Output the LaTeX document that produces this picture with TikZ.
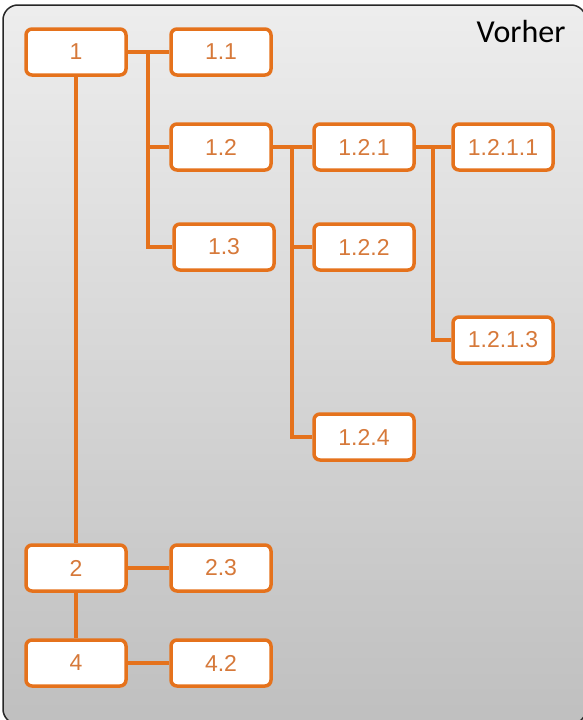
\documentclass[tikz,border=0pt]{standalone}
\usepackage{fontspec}
\setmainfont{Liberation Sans}
\newfontfamily\titlefont{Carlito}
\definecolor{boxorange}{RGB}{229,114,28}
\definecolor{textorange}{RGB}{214,121,58}
\newcommand{\boxfont}{\fontsize{23}{27}\selectfont}
\tikzset{
  itembox/.style={draw=boxorange, line width=3.5pt, fill=white, rounded corners=6pt,
    minimum width=100pt, minimum height=46pt, inner sep=0pt,
    text=textorange, font=\boxfont},
  link/.style={draw=boxorange, line width=3.5pt}
}

\begin{document}
\begin{tikzpicture}[x=1pt,y=-1pt]
  \useasboundingbox (0,0) rectangle (583,720);
  \shade[top color=black!7, bottom color=black!25, draw=black!85, line width=1.5pt, rounded corners=15pt]
    (3,5) rectangle (586,724);
  \node[anchor=north east, font=\titlefont\fontsize{32}{36}\selectfont] (title) at (569,17) {Vorher};

  % first level
  \node[itembox] (n1) at (76,52) {1};
  \node[itembox] (n2) at (76,568) {2};
  \node[itembox] (n4) at (76,663) {4};
  % second level
  \node[itembox] (n11) at (221,52) {1.1};
  \node[itembox] (n12) at (221,147) {1.2};
  \node[itembox] (n13) at (224,247) {1.3};
  \node[itembox] (n23) at (221,568) {2.3};
  \node[itembox] (n42) at (221,663) {4.2};
  % third level
  \node[itembox] (n121) at (364,147) {1.2.1};
  \node[itembox] (n122) at (364,247) {1.2.2};
  \node[itembox] (n124) at (364,437) {1.2.4};
  % fourth level
  \node[itembox] (n1211) at (503,147) {1.2.1.1};
  \node[itembox] (n1213) at (503,340) {1.2.1.3};

  \coordinate (b1) at (148,52);
  \coordinate (b12) at (292,147);
  \coordinate (b121) at (433,147);

  \draw[link] (n1.south) -- (n2.north);
  \draw[link] (n2.south) -- (n4.north);
  \draw[link] (n2.east) -- (n23.west);
  \draw[link] (n4.east) -- (n42.west);
  \draw[link] (n1.east) -- (n11.west);
  \draw[link] (b1) |- (n12.west);
  \draw[link] (b1) |- (n13.west);
  \draw[link] (n12.east) -- (n121.west);
  \draw[link] (b12) |- (n122.west);
  \draw[link] (b12) |- (n124.west);
  \draw[link] (n121.east) -- (n1211.west);
  \draw[link] (b121) |- (n1213.west);
\end{tikzpicture}
\end{document}
